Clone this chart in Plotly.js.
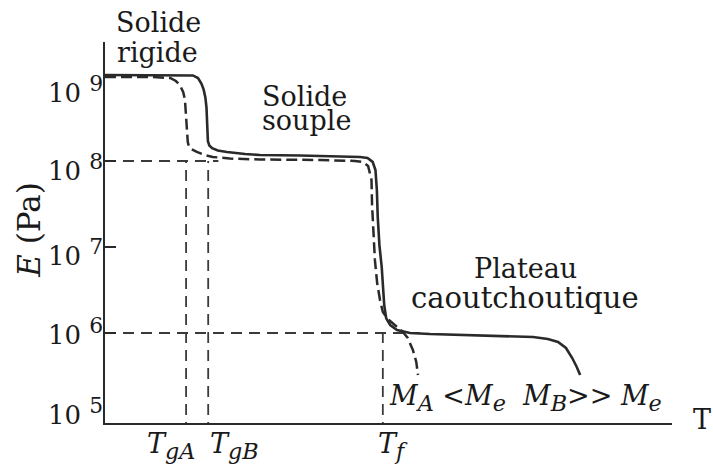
<!DOCTYPE html>
<html>
<head>
<meta charset="utf-8">
<script src="https://cdn.plot.ly/plotly-3.0.1.min.js"></script>
<style>
  html, body { margin: 0; padding: 0; background: #fff; }
  #chart { width: 713px; height: 470px; }
</style>
</head>
<body>
<div id="chart"></div>
<script>
// Modulus E (Pa) of an amorphous polymer versus temperature (arbitrary units).
// Polymer B (M_B >> M_e): glassy plateau, glass transition, rubbery plateau, flow.
const tempB = [0, 8, 15.5, 16.4, 17.0, 17.4, 17.7, 17.9, 18.0, 18.05, 18.15, 18.4, 18.9, 19.9, 21.5, 24.7, 27.3, 34.4, 41.4, 45.0, 46.3, 47.2, 47.7, 47.95, 48.1, 48.4, 48.8, 49.0, 49.25, 49.6, 50.3, 51.5, 53.8, 57.3, 63.8, 71.4, 75.5, 78.1, 79.9, 81.3, 82.4, 83.2, 83.8];
const logEB = [9.0, 9.0, 8.995, 8.965, 8.90, 8.83, 8.74, 8.62, 8.48, 8.33, 8.23, 8.18, 8.15, 8.122, 8.105, 8.081, 8.07, 8.064, 8.058, 8.047, 8.035, 7.99, 7.895, 7.66, 7.35, 7.02, 6.77, 6.50, 6.32, 6.17, 6.093, 6.035, 6.0, 5.988, 5.977, 5.965, 5.953, 5.93, 5.895, 5.826, 5.709, 5.605, 5.512];

// Polymer A (M_A < M_e): no rubbery plateau, flows right after T_f.
const tempA = [0, 8, 11.5, 12.5, 13.2, 13.8, 14.1, 14.3, 14.5, 14.6, 14.8, 15.2, 16.2, 17.6, 19.0, 22.0, 27.3, 37.9, 44.1, 45.5, 46.4, 47.0, 47.1, 47.3, 47.6, 48.0, 48.5, 49.0, 49.9, 51.1, 52.4, 53.4, 54.3, 54.9, 55.2];
const logEA = [8.977, 8.977, 8.965, 8.93, 8.884, 8.80, 8.71, 8.535, 8.36, 8.22, 8.17, 8.14, 8.105, 8.07, 8.047, 8.029, 8.017, 8.012, 8.0, 7.988, 7.942, 7.78, 7.49, 7.16, 6.85, 6.58, 6.384, 6.244, 6.163, 6.093, 6.023, 5.942, 5.802, 5.663, 5.512];

// Transition temperatures
const TgA = 14.3;
const TgB = 18.2;
const Tf = 49.0;

// Reference moduli marked by the dashed guides
const Eglass = 1e8;
const Erubber = 1e6;

// Decades labelled on the logarithmic E axis
const tickExponents = [5, 6, 7, 8, 9];
const tickLabels = tickExponents.map(e => '10 <sup><span style="font-size:120%">' + e + '</span></sup>');
// small hand offsets of each decade label (px, up is positive)
const tickLabelNudge = [8, 2, -5, -6, -14];

const toPa = arr => arr.map(v => Math.pow(10, v));

const ink = '#2a2a2a';
const guide = { color: '#3a3a3a', width: 1.8, dash: '11px,7px' };
const serif = '"DejaVu Serif", "Liberation Serif", serif';

const traces = [
  // dashed guides
  { x: [0, 20], y: [Eglass, Eglass], mode: 'lines', line: guide, hoverinfo: 'skip' },
  { x: [0, 55.5], y: [Erubber, Erubber], mode: 'lines', line: guide, hoverinfo: 'skip' },
  { x: [TgA, TgA], y: [1e4, Eglass], mode: 'lines', line: guide, hoverinfo: 'skip' },
  { x: [TgB, TgB], y: [1e4, Eglass], mode: 'lines', line: guide, hoverinfo: 'skip' },
  { x: [Tf, Tf], y: [1e4, Erubber], mode: 'lines', line: guide, hoverinfo: 'skip' },
  // polymer A
  { x: tempA, y: toPa(logEA), mode: 'lines', name: 'A',
    line: { color: ink, width: 2.5, dash: '11px,5px' } },
  // polymer B
  { x: tempB, y: toPa(logEB), mode: 'lines', name: 'B',
    line: { color: ink, width: 2.6 } }
];

const txt = (size, extra) => Object.assign({ family: serif, size: size, color: '#1a1a1a' }, extra || {});

function label(text, x, y, size) {
  return { text: text, xref: 'paper', yref: 'paper', x: x, y: y,
           xanchor: 'center', yanchor: 'middle', showarrow: false, font: txt(size) };
}

const sub = s => '<sub><span style="font-size:118%"><i>' + s + '</i></span></sub>';

const annotations = [
  label('Solide', 0.095, 1.052, 27),
  label('rigide', 0.093, 0.972, 27),
  label('Solide', 0.3527, 0.858, 27),
  label('souple', 0.3545, 0.795, 27),
  label('Plateau', 0.741, 0.405, 27),
  label('caoutchoutique', 0.741, 0.327, 29),
  // transition temperatures under the axis
  { text: '<i>T</i>' + sub('gA'), xref: 'x', yref: 'paper', x: TgA, y: 0,
    xanchor: 'right', yanchor: 'top', xshift: 11, yshift: -3, showarrow: false, font: txt(27) },
  { text: '<i>T</i>' + sub('gB'), xref: 'x', yref: 'paper', x: TgB, y: 0,
    xanchor: 'left', yanchor: 'top', xshift: 0, yshift: -3, showarrow: false, font: txt(27) },
  { text: '<i>T</i>' + sub('f'), xref: 'x', yref: 'paper', x: Tf, y: 0,
    xanchor: 'left', yanchor: 'top', xshift: -7, yshift: -3, showarrow: false, font: txt(27) },
  // molar masses relative to the entanglement mass
  { text: '<i>M</i>' + sub('A') + ' &lt;<i>M</i>' + sub('e') + '&nbsp; <i>M</i>' + sub('B') + '&gt;&gt; <i>M</i>' + sub('e'),
    xref: 'x', yref: 'paper', x: Tf, y: 0, xanchor: 'left', yanchor: 'bottom',
    xshift: 4, yshift: 5, showarrow: false, font: txt(27) },
  // temperature axis name
  { text: 'T', xref: 'paper', yref: 'paper', x: 1, y: 0, xanchor: 'left', yanchor: 'middle',
    xshift: 19, yshift: 4, showarrow: false, font: txt(27) },
  // modulus axis name
  { text: '<i>E</i> (Pa)', xref: 'paper', yref: 'paper', x: -0.134, y: 0.507,
    xanchor: 'center', yanchor: 'middle', textangle: -90, showarrow: false, font: txt(31) }
].concat(tickExponents.map((e, i) => ({
  text: tickLabels[i], xref: 'paper', yref: 'y', x: 0, y: e,
  xanchor: 'right', yanchor: 'middle', xshift: 0, yshift: tickLabelNudge[i],
  showarrow: false, font: txt(26)
})));

const layout = {
  width: 713, height: 470,
  margin: { l: 105, r: 41, t: 42, b: 47 },
  paper_bgcolor: '#ffffff', plot_bgcolor: '#ffffff',
  showlegend: false,
  xaxis: {
    range: [0, 100], showgrid: false, zeroline: false,
    showline: true, linecolor: ink, linewidth: 2,
    ticks: '', showticklabels: false, fixedrange: true
  },
  yaxis: {
    type: 'log', range: [4.9535, 9.3837],
    showgrid: false, zeroline: false,
    showline: true, linecolor: ink, linewidth: 2,
    ticks: 'inside', ticklen: 11, tickwidth: 2.5, tickcolor: ink,
    tickvals: tickExponents.slice(1).map(e => Math.pow(10, e)),
    showticklabels: false,
    fixedrange: true
  },
  annotations: annotations
};

Plotly.newPlot('chart', traces, layout, { staticPlot: true, displayModeBar: false });
</script>
</body>
</html>
